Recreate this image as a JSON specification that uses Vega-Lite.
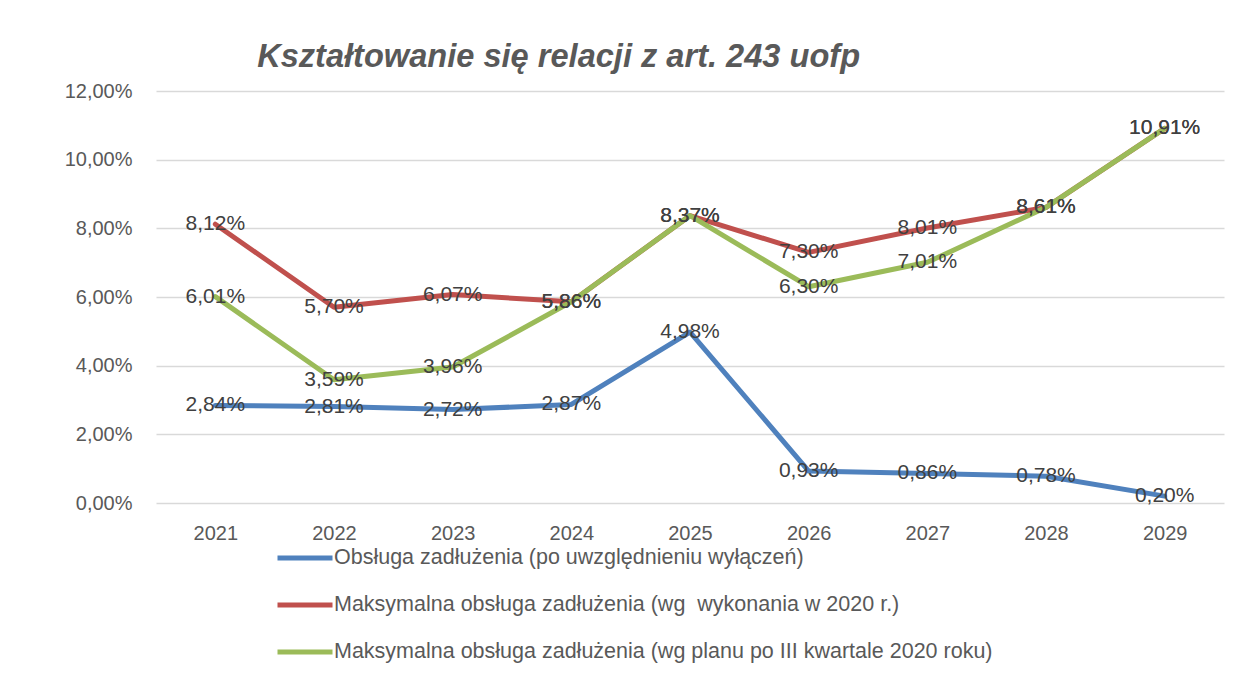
{
  "$schema": "https://vega.github.io/schema/vega-lite/v6.json",
  "width": 1068,
  "height": 412,
  "autosize": {"type": "none"},
  "padding": {"left": 156, "top": 91, "right": 29, "bottom": 173},
  "background": "white",
  "title": {
    "text": "Kształtowanie się relacji z art. 243 uofp",
    "anchor": "start",
    "dx": 193,
    "fontSize": 32.6,
    "fontStyle": "italic",
    "fontWeight": "bold",
    "font": "Liberation Sans",
    "color": "#595959",
    "offset": 7
  },
  "data": {
    "values": [
      {"rok": "2021", "seria": "Obsługa zadłużenia (po uwzględnieniu wyłączeń)", "wartosc": 0.0284},
      {"rok": "2022", "seria": "Obsługa zadłużenia (po uwzględnieniu wyłączeń)", "wartosc": 0.0281},
      {"rok": "2023", "seria": "Obsługa zadłużenia (po uwzględnieniu wyłączeń)", "wartosc": 0.0272},
      {"rok": "2024", "seria": "Obsługa zadłużenia (po uwzględnieniu wyłączeń)", "wartosc": 0.0287},
      {"rok": "2025", "seria": "Obsługa zadłużenia (po uwzględnieniu wyłączeń)", "wartosc": 0.0498},
      {"rok": "2026", "seria": "Obsługa zadłużenia (po uwzględnieniu wyłączeń)", "wartosc": 0.0093},
      {"rok": "2027", "seria": "Obsługa zadłużenia (po uwzględnieniu wyłączeń)", "wartosc": 0.0086},
      {"rok": "2028", "seria": "Obsługa zadłużenia (po uwzględnieniu wyłączeń)", "wartosc": 0.0078},
      {"rok": "2029", "seria": "Obsługa zadłużenia (po uwzględnieniu wyłączeń)", "wartosc": 0.0020},
      {"rok": "2021", "seria": "Maksymalna obsługa zadłużenia (wg\u00a0 wykonania w 2020 r.)", "wartosc": 0.0812},
      {"rok": "2022", "seria": "Maksymalna obsługa zadłużenia (wg\u00a0 wykonania w 2020 r.)", "wartosc": 0.0570},
      {"rok": "2023", "seria": "Maksymalna obsługa zadłużenia (wg\u00a0 wykonania w 2020 r.)", "wartosc": 0.0607},
      {"rok": "2024", "seria": "Maksymalna obsługa zadłużenia (wg\u00a0 wykonania w 2020 r.)", "wartosc": 0.0586},
      {"rok": "2025", "seria": "Maksymalna obsługa zadłużenia (wg\u00a0 wykonania w 2020 r.)", "wartosc": 0.0837},
      {"rok": "2026", "seria": "Maksymalna obsługa zadłużenia (wg\u00a0 wykonania w 2020 r.)", "wartosc": 0.0730},
      {"rok": "2027", "seria": "Maksymalna obsługa zadłużenia (wg\u00a0 wykonania w 2020 r.)", "wartosc": 0.0801},
      {"rok": "2028", "seria": "Maksymalna obsługa zadłużenia (wg\u00a0 wykonania w 2020 r.)", "wartosc": 0.0861},
      {"rok": "2029", "seria": "Maksymalna obsługa zadłużenia (wg\u00a0 wykonania w 2020 r.)", "wartosc": 0.1091},
      {"rok": "2021", "seria": "Maksymalna obsługa zadłużenia (wg planu po III kwartale 2020 roku)", "wartosc": 0.0601},
      {"rok": "2022", "seria": "Maksymalna obsługa zadłużenia (wg planu po III kwartale 2020 roku)", "wartosc": 0.0359},
      {"rok": "2023", "seria": "Maksymalna obsługa zadłużenia (wg planu po III kwartale 2020 roku)", "wartosc": 0.0396},
      {"rok": "2024", "seria": "Maksymalna obsługa zadłużenia (wg planu po III kwartale 2020 roku)", "wartosc": 0.0586},
      {"rok": "2025", "seria": "Maksymalna obsługa zadłużenia (wg planu po III kwartale 2020 roku)", "wartosc": 0.0837},
      {"rok": "2026", "seria": "Maksymalna obsługa zadłużenia (wg planu po III kwartale 2020 roku)", "wartosc": 0.0630},
      {"rok": "2027", "seria": "Maksymalna obsługa zadłużenia (wg planu po III kwartale 2020 roku)", "wartosc": 0.0701},
      {"rok": "2028", "seria": "Maksymalna obsługa zadłużenia (wg planu po III kwartale 2020 roku)", "wartosc": 0.0861},
      {"rok": "2029", "seria": "Maksymalna obsługa zadłużenia (wg planu po III kwartale 2020 roku)", "wartosc": 0.1091}
    ]
  },
  "encoding": {
    "x": {
      "field": "rok",
      "type": "ordinal",
      "scale": {"type": "point", "padding": 0.5},
      "axis": {
        "title": null,
        "labelAngle": 0,
        "domain": false,
        "ticks": false,
        "labelPadding": 20,
        "labelFontSize": 20,
        "labelFont": "Liberation Sans",
        "labelColor": "#595959"
      }
    },
    "y": {
      "field": "wartosc",
      "type": "quantitative",
      "scale": {"domain": [0, 0.12], "nice": false},
      "axis": {
        "title": null,
        "values": [0, 0.02, 0.04, 0.06, 0.08, 0.1, 0.12],
        "format": ".2%",
        "domain": false,
        "ticks": false,
        "labelPadding": 24,
        "labelFontSize": 20,
        "labelFont": "Liberation Sans",
        "labelColor": "#595959",
        "gridColor": "#d9d9d9",
        "gridWidth": 1.5
      }
    }
  },
  "layer": [
    {
      "mark": {"type": "line", "strokeWidth": 5, "strokeCap": "round", "strokeJoin": "round"},
      "encoding": {
        "color": {
          "field": "seria",
          "type": "nominal",
          "sort": [
            "Obsługa zadłużenia (po uwzględnieniu wyłączeń)",
            "Maksymalna obsługa zadłużenia (wg\u00a0 wykonania w 2020 r.)",
            "Maksymalna obsługa zadłużenia (wg planu po III kwartale 2020 roku)"
          ],
          "scale": {
            "domain": [
              "Obsługa zadłużenia (po uwzględnieniu wyłączeń)",
              "Maksymalna obsługa zadłużenia (wg\u00a0 wykonania w 2020 r.)",
              "Maksymalna obsługa zadłużenia (wg planu po III kwartale 2020 roku)"
            ],
            "range": ["#4f81bd", "#c0504d", "#9bbb59"]
          },
          "legend": {
            "title": null,
            "orient": "none",
            "legendX": 119,
            "legendY": 437,
            "direction": "vertical",
            "symbolType": "stroke",
            "symbolSize": 3025,
            "symbolStrokeWidth": 5,
            "labelFontSize": 21.5,
            "labelFont": "Liberation Sans",
            "labelColor": "#595959",
            "labelLimit": 900,
            "labelOffset": -1,
            "rowPadding": 6
          }
        }
      }
    },
    {
      "mark": {"type": "text", "fontSize": 21, "font": "Liberation Sans", "color": "#404040", "align": "center", "baseline": "middle"},
      "encoding": {
        "text": {"field": "wartosc", "type": "quantitative", "format": ".2%"},
        "detail": {"field": "seria", "type": "nominal"}
      }
    }
  ],
  "config": {
    "locale": {"number": {"decimal": ",", "thousands": " ", "grouping": [3], "currency": ["", " zł"]}},
    "view": {"stroke": null}
  }
}
